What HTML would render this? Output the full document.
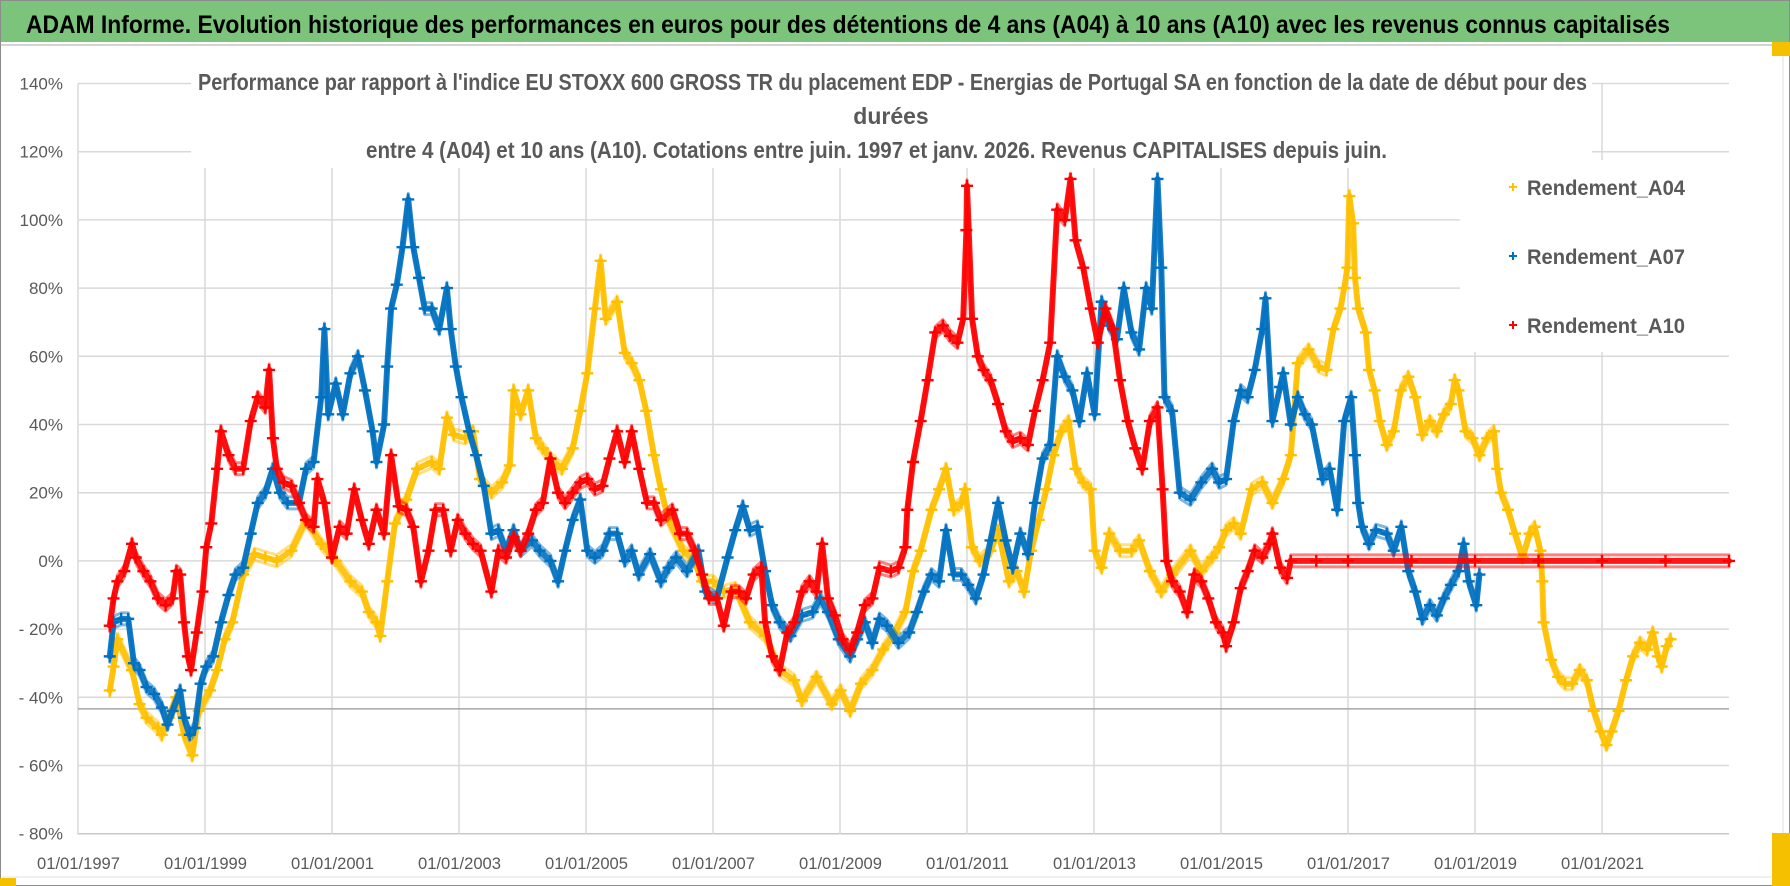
<!DOCTYPE html>
<html><head><meta charset="utf-8"><style>
html,body{margin:0;padding:0;background:#fff;}
svg{display:block;font-family:"Liberation Sans",sans-serif;}
</style></head><body>
<svg id="chart" width="1790" height="886" viewBox="0 0 1790 886" xmlns="http://www.w3.org/2000/svg">
<rect x="0" y="0" width="1790" height="886" fill="#fff"/>
<rect x="0" y="0" width="1790" height="42" fill="#7cc47c"/>
<text x="26" y="33" font-size="25" font-weight="bold" fill="#000" textLength="1644" lengthAdjust="spacingAndGlyphs">ADAM Informe. Evolution historique des performances en euros pour des détentions de 4 ans (A04) à 10 ans (A10) avec les revenus connus capitalisés</text>
<line x1="0" y1="45" x2="1783" y2="45" stroke="#d4d4d4" stroke-width="2"/>
<rect x="0.5" y="0.5" width="1789" height="885" fill="none" stroke="#8c8c8c"/>
<line x1="1783" y1="46" x2="1783" y2="878" stroke="#e0e0e0"/>
<line x1="2" y1="877" x2="1783" y2="877" stroke="#e0e0e0"/>
<rect x="0" y="878" width="16" height="8" fill="#f5c000"/>
<rect x="1772" y="833" width="18" height="53" fill="#f5c000"/>
<rect x="1772" y="42" width="18" height="14" fill="#f5c000"/>
<g id="grid"></g>
<g id="series"></g>
<rect x="191" y="60" width="1401" height="108" fill="#fff"/>
<text x="198" y="90" font-size="23" font-weight="bold" fill="#595959" textLength="1389" lengthAdjust="spacingAndGlyphs">Performance par rapport à l'indice EU STOXX 600 GROSS TR  du placement EDP - Energias de Portugal SA en fonction de la date de début pour des</text>
<text x="891" y="124" font-size="23" font-weight="bold" fill="#595959" text-anchor="middle">durées</text>
<text x="366" y="158" font-size="23" font-weight="bold" fill="#595959" textLength="1021" lengthAdjust="spacingAndGlyphs">entre 4 (A04) et 10 ans (A10).  Cotations entre juin. 1997 et janv. 2026. Revenus CAPITALISES depuis juin.</text>
<g id="legend">
<rect x="1460" y="160" width="276" height="192" fill="#fff"/>
</g>
<g id="axes"></g>
</svg>
<script>
// ---- chart data ----
const yTickValues = [140,120,100,80,60,40,20,0,-20,-40,-60,-80];
const yTickLabels = ["140%","120%","100%","80%","60%","40%","20%","0%","- 20%","- 40%","- 60%","- 80%"];
const xTickYears = [1997,1999,2001,2003,2005,2007,2009,2011,2013,2015,2017,2019,2021];
const xTickLabels = ["01/01/1997","01/01/1999","01/01/2001","01/01/2003","01/01/2005","01/01/2007","01/01/2009","01/01/2011","01/01/2013","01/01/2015","01/01/2017","01/01/2019","01/01/2021"];
const refLineValue = -43.4;
const seriesNames = ["Rendement_A04","Rendement_A07","Rendement_A10"];

const a04Dates = [1997.50,1997.56,1997.62,1997.85,1997.97,1998.08,1998.26,1998.32,1998.43,1998.55,1998.67,1998.80,1998.90,1999.08,1999.19,1999.31,1999.43,1999.60,1999.78,1999.95,2000.13,2000.36,2000.59,2000.83,2001.06,2001.29,2001.47,2001.58,2001.70,2001.76,2001.87,2001.99,2002.17,2002.34,2002.57,2002.69,2002.81,2002.92,2003.10,2003.22,2003.33,2003.51,2003.68,2003.80,2003.86,2003.97,2004.09,2004.21,2004.32,2004.44,2004.62,2004.79,2004.91,2005.02,2005.14,2005.23,2005.31,2005.49,2005.61,2005.72,2005.84,
2005.95,2006.07,2006.18,2006.30,2006.53,2006.71,2006.83,2007.00,2007.17,2007.35,2007.58,2007.82,2008.05,2008.28,2008.40,2008.63,2008.87,2009.01,2009.16,2009.33,2009.51,2009.68,2009.86,2010.03,2010.15,2010.27,2010.44,2010.56,2010.67,2010.79,2010.91,2010.97,2011.08,2011.20,2011.37,2011.49,2011.66,2011.78,2011.90,2012.01,2012.13,2012.25,2012.36,2012.48,2012.60,2012.71,2012.83,2012.95,2013.01,2013.12,2013.24,2013.41,2013.59,2013.71,2013.88,2014.06,2014.23,
2014.52,2014.69,2014.86,2014.97,2015.08,2015.20,2015.31,2015.48,2015.65,2015.81,2015.98,2016.10,2016.21,2016.38,2016.54,2016.66,2016.77,2016.88,2016.94,2016.99,2017.02,2017.08,2017.11,2017.16,2017.28,2017.33,2017.42,2017.50,2017.61,2017.72,2017.83,2017.95,2018.06,2018.17,2018.29,2018.40,2018.51,2018.62,2018.68,2018.74,2018.85,2018.96,2019.07,2019.19,2019.30,2019.35,2019.41,2019.52,2019.63,2019.75,2019.86,2019.94,2020.03,2020.06,2020.08,2020.20,2020.31,2020.42,2020.53,2020.65,2020.76,2020.87,2020.98,2021.07,2021.15,2021.26,2021.38,2021.49,2021.60,2021.71,2021.80,2021.88,2021.94,2022.02,2022.08];
const a04Values = [-38,-31,-23,-32,-42,-46,-49,-51,-46,-40,-51,-57,-44,-38,-32,-23,-18,-4,2,1,0,3,12,5,0,-6,-9,-15,-18,-22,-6,11,18,27,29,27,42,37,36,38,24,20,23,28,50,43,50,36,33,30,27,33,44,55,74,88,71,76,61,58,53,
44,31,21,12,3,0,-6,-6,-9,-8,-18,-22,-32,-35,-41,-34,-42,-38,-44,-36,-32,-26,-21,-15,-3,3,15,21,27,15,17,21,4,0,3,9,-6,-3,-9,3,12,21,31,38,41,27,23,21,3,-2,8,3,3,6,-3,-9,-4,
3,-3,1,4,9,11,8,21,23,17,24,31,58,62,57,56,68,74,80,86,107,99,83,74,67,56,50,41,34,38,50,54,48,37,41,38,43,46,53,50,38,36,31,36,38,27,20,15,8,1,8,10,3,-6,-18,-29,-34,-36,-36,-32,-35,-44,-50,-54,-50,-44,-35,-28,-24,-26,-21,-28,-31,-25,-23];

const a07Dates = [1997.50,1997.56,1997.68,1997.79,1997.88,1997.97,1998.08,1998.20,1998.32,1998.41,1998.49,1998.61,1998.67,1998.76,1998.84,1998.93,1999.02,1999.13,1999.25,1999.37,1999.48,1999.60,1999.72,1999.83,1999.95,2000.07,2000.18,2000.30,2000.48,2000.59,2000.71,2000.83,2000.88,2000.94,2001.06,2001.17,2001.29,2001.41,2001.52,2001.64,2001.70,2001.82,2001.87,2001.93,2002.02,2002.11,2002.20,2002.28,2002.37,2002.46,2002.57,2002.69,2002.81,2002.87,2002.95,2003.04,2003.16,2003.27,2003.39,2003.51,2003.62,2003.74,2003.86,2003.97,2004.15,2004.27,2004.44,2004.56,2004.67,2004.79,2004.91,2005.02,2005.14,2005.26,2005.37,2005.49,2005.61,2005.72,
2005.83,2006.01,2006.18,2006.30,2006.42,2006.59,2006.77,2006.88,2007.06,2007.23,2007.35,2007.47,2007.58,2007.70,2007.82,2007.93,2008.05,2008.22,2008.40,2008.57,2008.69,2008.81,2008.98,2009.16,2009.27,2009.39,2009.51,2009.62,2009.74,2009.92,2010.09,2010.21,2010.32,2010.44,2010.56,2010.67,2010.79,2010.91,2011.02,2011.14,2011.26,2011.37,2011.49,2011.61,2011.72,2011.84,2011.96,2012.07,2012.19,2012.31,2012.42,2012.54,2012.66,2012.77,2012.89,2013.01,2013.12,2013.24,2013.36,2013.47,2013.59,2013.71,2013.82,2013.91,2014.00,2014.06,2014.11,2014.23,
2014.35,2014.52,2014.69,2014.86,2014.97,2015.08,2015.20,2015.31,2015.42,2015.53,2015.65,2015.70,2015.81,2015.93,2015.98,2016.10,2016.21,2016.32,2016.43,2016.60,2016.71,2016.83,2016.94,2017.05,2017.11,2017.16,2017.22,2017.33,2017.44,2017.61,2017.72,2017.84,2017.95,2018.06,2018.17,2018.29,2018.40,2018.51,2018.62,2018.74,2018.82,2018.90,2019.02,2019.07];
const a07Values = [-28,-18,-17,-17,-30,-32,-37,-39,-43,-48,-44,-38,-46,-51,-49,-36,-31,-28,-18,-10,-4,-2,8,17,20,27,20,17,17,27,29,48,68,43,52,43,55,60,50,38,29,40,57,74,81,92,106,92,83,74,74,68,80,68,57,48,38,31,22,8,9,3,9,3,6,3,0,-6,3,12,18,3,1,3,8,8,0,3,
-4,2,-6,-2,1,-3,3,-9,-11,1,9,16,9,10,-3,-13,-18,-22,-16,-15,-11,-15,-23,-28,-23,-18,-24,-17,-19,-24,-21,-15,-9,-4,-6,9,-4,-4,-7,-11,-4,6,17,6,-2,8,2,17,30,34,60,54,50,41,55,43,76,69,65,80,67,62,80,74,112,86,48,44,
20,18,23,27,23,24,41,50,48,56,68,77,41,51,55,40,48,43,40,24,27,15,41,48,31,17,10,5,9,8,3,10,-3,-9,-17,-13,-16,-11,-7,-3,5,-6,-13,-4];

const a10Dates = [1997.50,1997.56,1997.62,1997.73,1997.85,1997.91,1998.03,1998.14,1998.26,1998.38,1998.49,1998.55,1998.61,1998.67,1998.73,1998.78,1998.87,1998.96,1999.02,1999.10,1999.19,1999.25,1999.37,1999.48,1999.60,1999.72,1999.83,1999.95,2000.01,2000.07,2000.13,2000.24,2000.36,2000.48,2000.59,2000.71,2000.77,2000.88,2001.00,2001.12,2001.23,2001.35,2001.47,2001.58,2001.70,2001.82,2001.93,2002.05,2002.17,2002.28,2002.40,2002.52,2002.63,2002.75,2002.87,2002.98,2003.10,2003.22,2003.34,2003.51,2003.62,2003.74,2003.86,2003.97,2004.09,2004.21,2004.32,2004.44,2004.56,2004.67,2004.79,2004.91,2005.02,2005.14,2005.26,2005.37,2005.49,2005.61,2005.72,2005.84,2005.96,
2006.07,2006.18,2006.36,2006.48,2006.59,2006.71,2006.83,2006.94,2007.06,2007.17,2007.29,2007.41,2007.52,2007.64,2007.76,2007.82,2007.93,2008.05,2008.17,2008.28,2008.40,2008.52,2008.63,2008.72,2008.81,2008.92,2009.04,2009.16,2009.27,2009.39,2009.51,2009.62,2009.80,2009.92,2010.03,2010.06,2010.15,2010.27,2010.38,2010.50,2010.62,2010.73,2010.85,2010.94,2010.99,2011.00,2011.08,2011.17,2011.26,2011.37,2011.49,2011.61,2011.72,2011.84,2011.96,2012.07,2012.19,2012.31,2012.42,2012.54,2012.63,2012.71,2012.83,2012.95,2013.06,2013.18,2013.30,2013.41,2013.53,2013.65,2013.76,2013.88,2014.00,2014.08,2014.14,2014.23,
2014.35,2014.47,2014.58,2014.69,2014.80,2014.92,2015.03,2015.08,2015.20,2015.31,2015.42,2015.53,2015.65,2015.76,2015.81,2015.93,2016.04,2016.10,2016.50,2017.00,2018.00,2019.00,2020.00,2021.00,2022.00,2023.00];
const a10Values = [-19,-11,-6,-3,5,1,-3,-6,-11,-13,-11,-3,-4,-18,-28,-32,-21,-9,4,11,27,38,31,27,27,41,48,45,56,36,27,23,22,17,12,10,24,17,1,10,8,21,12,5,15,8,31,16,15,10,-6,3,15,15,3,12,8,5,3,-9,3,1,7,3,8,15,17,30,20,17,20,23,24,21,22,30,38,29,38,27,17,
17,12,15,8,8,3,-4,-11,-11,-19,-9,-9,-11,-4,-2,-18,-28,-32,-21,-18,-9,-6,-9,5,-11,-16,-23,-26,-21,-13,-11,-2,-3,-2,4,15,29,41,53,67,69,66,64,71,97,110,71,60,56,53,46,38,35,36,34,44,53,64,103,100,112,94,86,74,64,74,68,53,41,33,27,41,45,21,0,-6,
-9,-15,-4,-6,-11,-18,-21,-25,-18,-8,-3,3,1,5,8,-2,-5,0,0,0,0,0,0,0,0,0];

// ---- axis functions ----
const X0 = 78, PX_PER_YEAR = 63.5, Y140 = 83.5, PX_PER_PCT = 3.41;
const PLOT_LEFT = 78, PLOT_RIGHT = 1729, PLOT_TOP = 83.5, PLOT_BOTTOM = 834.6;
function xScale(year){ return X0 + (year - 1997) * PX_PER_YEAR; }
function yScale(v){ return Y140 + (140 - v) * PX_PER_PCT; }

const NS = "http://www.w3.org/2000/svg";
function mk(tag, attrs, parent){
  const el = document.createElementNS(NS, tag);
  for (const k in attrs) el.setAttribute(k, attrs[k]);
  parent.appendChild(el);
  return el;
}
const grid = document.getElementById("grid");
const axes = document.getElementById("axes");
const seriesG = document.getElementById("series");
const legend = document.getElementById("legend");

yTickValues.forEach(function(v, i){
  const y = yScale(v);
  const ln = mk("line", {x1: PLOT_LEFT, y1: y, x2: PLOT_RIGHT, y2: y, stroke: (v === -80 ? "#c8c8c8" : "#d9d9d9"), "stroke-width": 1.5}, grid);
  
  
  const t = mk("text", {x: 63, y: y + 6, "text-anchor": "end", "font-size": 17, fill: "#595959"}, axes);
  t.textContent = yTickLabels[i];
  
  
});
xTickYears.forEach(function(yr, i){
  const x = xScale(yr);
  const ln = mk("line", {x1: x, y1: PLOT_TOP, x2: x, y2: PLOT_BOTTOM, stroke: "#d9d9d9", "stroke-width": 1.5}, grid);
  
  
  const t = mk("text", {x: x - 41, y: 869, "font-size": 17, fill: "#595959", textLength: 83, lengthAdjust: "spacingAndGlyphs"}, axes);
  t.textContent = xTickLabels[i];
  
  
});
const ref = mk("line", {x1: PLOT_LEFT, y1: yScale(refLineValue), x2: PLOT_RIGHT, y2: yScale(refLineValue), stroke: "#a6a6a6", "stroke-width": 1.5}, grid);



const seriesDefs = [
  {dates: a04Dates, values: a04Values, color: "#FFC000", name: "series-a04"},
  {dates: a07Dates, values: a07Values, color: "#0070C0", name: "series-a07"},
  {dates: a10Dates, values: a10Values, color: "#FF0000", name: "series-a10"}
];
const bandOffsets = [-6, 0, 6];
seriesDefs.forEach(function(s){
  const g = mk("g", {}, seriesG);
  
  
  bandOffsets.forEach(function(off){
    let d = "";
    s.dates.forEach(function(dt, i){
      d += (i ? "L" : "M") + xScale(dt).toFixed(1) + "," + (yScale(s.values[i]) + off).toFixed(1);
    });
    const band = mk("path", {d: d, fill: "none", stroke: s.color, "stroke-width": (off === 0 ? 6 : 3), "stroke-opacity": (off === 0 ? 0.9 : 0.5), "stroke-linejoin": "round", "stroke-linecap": "round"}, g);
    
    
  });
  s.dates.forEach(function(dt, i){
    const x = xScale(dt), y = yScale(s.values[i]);
    const p = mk("path", {d: "M" + (x - 6) + "," + y + "H" + (x + 6) + "M" + x + "," + (y - 6) + "V" + (y + 6), stroke: s.color, "stroke-width": 2.4}, g);
    
    
  });
});

const legendColors = ["#FFC000","#0070C0","#FF0000"];
const legendY = [187, 256, 325];
seriesNames.forEach(function(n, i){
  const y = legendY[i];
  const m = mk("path", {d: "M1509," + y + "H1517M1513," + (y - 4) + "V" + (y + 4), stroke: legendColors[i], "stroke-width": 2}, legend);
  
  
  const t = mk("text", {x: 1527, y: y + 8, "font-size": 21, "font-weight": "bold", fill: "#595959", textLength: 158, lengthAdjust: "spacingAndGlyphs"}, legend);
  t.textContent = n;
  
  
});
</script>
</body></html>
